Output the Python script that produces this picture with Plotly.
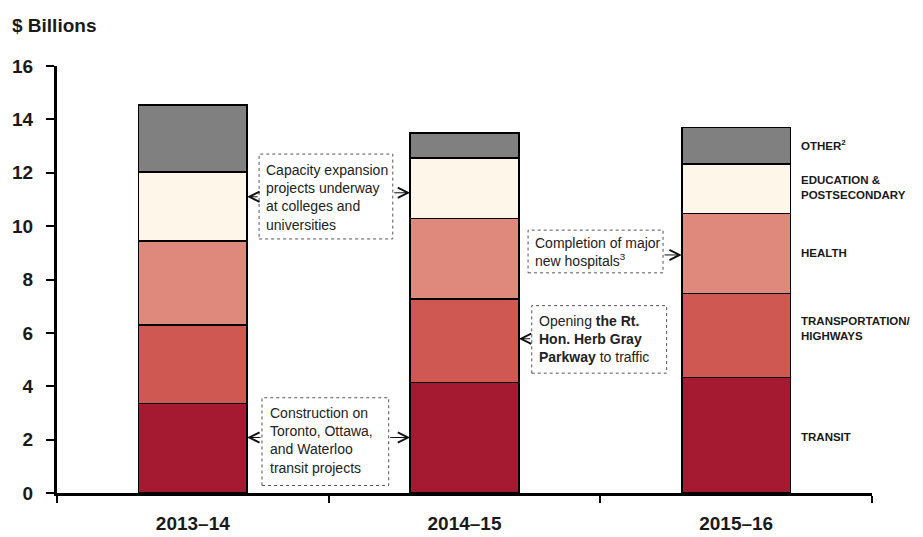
import plotly.graph_objects as go

years = ["2013–14", "2014–15", "2015–16"]
transit = [3.35, 4.14, 4.32]
transportation = [2.95, 3.13, 3.15]
health = [3.15, 3.01, 3.01]
education = [2.57, 2.28, 1.84]
other = [2.51, 0.93, 1.37]

series = [
    ("TRANSIT", transit, "#A51931"),
    ("TRANSPORTATION/<br>HIGHWAYS", transportation, "#D05853"),
    ("HEALTH", health, "#DF897C"),
    ("EDUCATION &<br>POSTSECONDARY", education, "#FEF6E8"),
    ("OTHER<sup>2</sup>", other, "#808080"),
]
legend_y = [2.08, 6.15, 8.99, 11.46, 13.03]

FONT = "Liberation Sans Narrow, Arial Narrow, Liberation Sans, Arial, sans-serif"

fig = go.Figure()
for name, vals, col in series:
    fig.add_trace(go.Bar(x=years, y=vals, name=name, marker=dict(color=col, line=dict(color="black", width=1.5))))

for (name, vals, col), ly in zip(series, legend_y):
    fig.add_annotation(x=0.911, xref="paper", y=ly, yref="y", text="<b>" + name + "</b>",
                       showarrow=False, xanchor="left", yanchor="middle", align="left",
                       font=dict(size=11.5, color="#1a1a1a", family=FONT))

fig.add_annotation(x=(10 - 57) / 815, xref="paper", y=1 + (66 - 26) / 427, yref="paper",
                   text="<b>$ Billions</b>", showarrow=False, xanchor="left", yanchor="middle",
                   font=dict(size=19, color="#1a1a1a", family=FONT))

boxes = [
    dict(x0=0.248, x1=0.412, y0=9.52, y1=12.70, tx=0.254, ty=11.09,
         text="Capacity expansion<br>projects underway<br>at colleges and<br>universities"),
    dict(x0=0.2515, x1=0.407, y0=0.28, y1=3.57, tx=0.259, ty=1.96,
         text="Construction on<br>Toronto, Ottawa,<br>and Waterloo<br>transit projects"),
    dict(x0=0.578, x1=0.7436, y0=8.25, y1=9.85, tx=0.584, ty=9.03,
         text="Completion of major<br>new hospitals<sup>3</sup>"),
    dict(x0=0.5825, x1=0.748, y0=4.49, y1=7.02, tx=0.5886, ty=5.78,
         text="Opening <b>the Rt.</b><br><b>Hon. Herb Gray</b><br><b>Parkway</b> to traffic"),
]
for b in boxes:
    fig.add_shape(type="rect", xref="paper", yref="y", x0=b["x0"], x1=b["x1"], y0=b["y0"], y1=b["y1"],
                  line=dict(color="#555555", width=1, dash="dot"), fillcolor="white", layer="above")
    fig.add_annotation(x=b["tx"], xref="paper", y=b["ty"], yref="y", text=b["text"], showarrow=False,
                       xanchor="left", yanchor="middle", align="left",
                       font=dict(size=14, color="#222222", family=FONT))

# arrows: (tip x data, tip y, tail x paper)
arrows = [
    (0.2, 11.1, 0.248),
    (0.8, 11.25, 0.412),
    (0.2, 2.08, 0.2515),
    (0.8, 2.08, 0.407),
    (1.8, 8.92, 0.7436),
    (1.2, 5.78, 0.5825),
]
for tx, ty, tail in arrows:
    fig.add_annotation(x=tx, xref="x", y=ty, yref="y", ax=-0.5 + tail * 3, axref="x", ay=ty, ayref="y",
                       text="", showarrow=True, arrowhead=5, arrowsize=2.0, arrowwidth=1, arrowcolor="#111111",
                       standoff=0)

fig.update_layout(
    barmode="stack", bargap=0.6, width=915, height=529,
    margin=dict(l=49, r=51, t=58, b=44),
    plot_bgcolor="white", paper_bgcolor="white", showlegend=False,
    font=dict(family=FONT, color="#1a1a1a"),
)
fig.update_xaxes(range=[-0.5, 2.5], showline=True, linecolor="black", linewidth=3, automargin=False,
                 ticks="outside", tickson="boundaries", ticklen=7, tickwidth=2, tickcolor="black",
                 tickfont=dict(size=19, family=FONT, color="#1a1a1a"), ticklabelstandoff=11,
                 showgrid=False, tickprefix="<b>", ticksuffix="</b>")
fig.update_yaxes(range=[0, 16], dtick=2, showline=True, linecolor="black", linewidth=3, automargin=False,
                 ticks="outside", ticklen=8, tickwidth=2, tickcolor="black",
                 tickfont=dict(size=19, family=FONT, color="#1a1a1a"), ticklabelstandoff=9,
                 showgrid=False, zeroline=False, tickprefix="<b>", ticksuffix="</b>")

fig.write_html("out.html")
